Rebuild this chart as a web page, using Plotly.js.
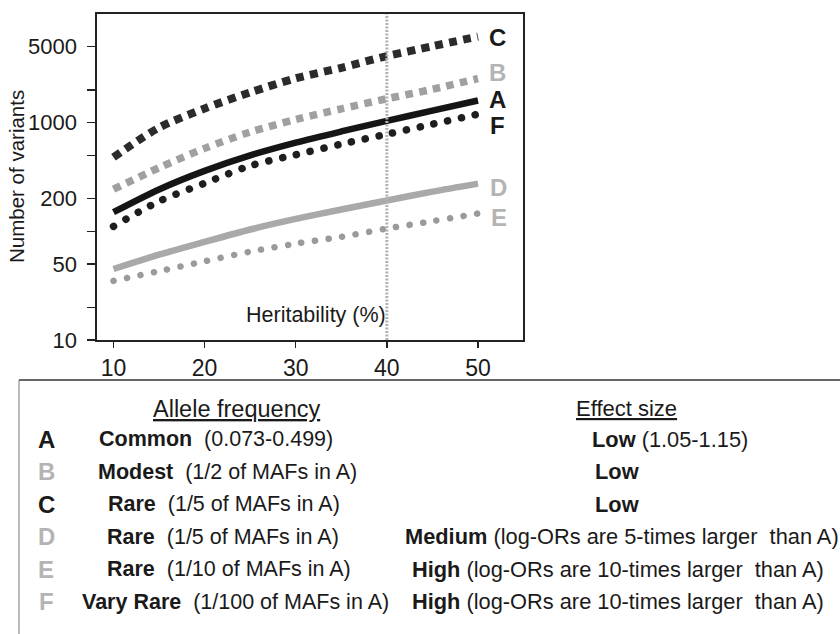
<!DOCTYPE html>
<html>
<head>
<meta charset="utf-8">
<script src="https://cdn.plot.ly/plotly-3.0.1.min.js"></script>
<style>
  html, body { margin: 0; padding: 0; background: #ffffff; }
  #chart { width: 840px; height: 634px; }
</style>
</head>
<body>
<div id="chart"></div>
<script>
// ---------------- data ----------------
const heritability = [10, 15, 20, 25, 30, 35, 40, 45, 50];
const seriesA = [150, 243, 360, 500, 655, 830, 1040, 1290, 1600];
const seriesB = [244, 385, 580, 820, 1070, 1340, 1660, 2030, 2550];
const seriesC = [480, 900, 1350, 1900, 2560, 3200, 4100, 5050, 6200];
const seriesD = [45, 61, 80, 104, 130, 159, 192, 232, 275];
const seriesE = [35, 43, 53, 65, 77, 89, 106, 124, 146];
const seriesF = [111, 189, 277, 401, 507, 634, 783, 969, 1197];

const yTickVals = [10, 20, 50, 100, 200, 500, 1000, 2000, 5000];
const yTickText = ['10', '', '50', '', '200', '', '1000', '', '5000'];
const xTickVals = [10, 20, 30, 40, 50];
const markerLineX = 40;

const yAxisTitle = 'Number of variants';
const xAxisTitle = 'Heritability (%)';

const legendLetters = ['A', 'B', 'C', 'D', 'E', 'F'];
const alleleHeader = 'Allele frequency';
const effectHeader = 'Effect size';
const alleleFreq = [
  '<b>Common</b>\u00a0\u00a0(0.073-0.499)',
  '<b>Modest</b>\u00a0\u00a0(1/2 of MAFs in A)',
  '<b>Rare</b>\u00a0\u00a0(1/5 of MAFs in A)',
  '<b>Rare</b>\u00a0\u00a0(1/5 of MAFs in A)',
  '<b>Rare</b>\u00a0\u00a0(1/10 of MAFs in A)',
  '<b>Vary Rare</b>\u00a0\u00a0(1/100 of MAFs in A)'
];
const effectSize = [
  '<b>Low</b> (1.05-1.15)',
  '<b>Low</b>',
  '<b>Low</b>',
  '<b>Medium</b> (log-ORs are 5-times larger\u00a0\u00a0than A)',
  '<b>High</b> (log-ORs are 10-times larger\u00a0\u00a0than A)',
  '<b>High</b> (log-ORs are 10-times larger\u00a0\u00a0than A)'
];

// ---------------- layout helpers (pixel -> paper) ----------------
const W = 840, H = 634;
const L = 97, R = 523, T = 14, B = 340;
const px = x => (x - L) / (R - L);
const py = y => (B - y) / (B - T);

const FONT = 'Liberation Sans, Arial, Helvetica, sans-serif';
const DARK = '#1a1a1a';
const LIGHT = '#b4b4b4';

// ---------------- traces ----------------
function tr(name, y, color, width, dash, round) {
  return {
    type: 'scatter', mode: 'lines', name: name,
    x: heritability, y: y,
    line: { color: color, width: width, dash: dash, shape: 'spline', smoothing: 0.8 },
    meta: round ? 'round' : 'plain',
    hoverinfo: 'skip'
  };
}
const traces = [
  tr('D', seriesD, '#a9a9a9', 6.5, 'solid', false),
  tr('E', seriesE, '#9a9a9a', 6.5, '0.1px,13.6px', true),
  tr('A', seriesA, '#151515', 6.5, 'solid', false),
  tr('F', seriesF, '#1e1e1e', 7.5, '0.1px,14px', true),
  tr('B', seriesB, '#a0a0a0', 7.5, '7.5px,6.5px', false),
  tr('C', seriesC, '#2b2b2b', 8, '8px,6.3px', false)
];

// ---------------- annotations ----------------
const annotations = [];
const curveLabels = [
  { t: 'C', x: 497.5, y: 37.5, c: DARK },
  { t: 'B', x: 497.5, y: 73, c: LIGHT },
  { t: 'A', x: 497.5, y: 99, c: DARK },
  { t: 'F', x: 497.5, y: 125, c: DARK },
  { t: 'D', x: 498.5, y: 187, c: LIGHT },
  { t: 'E', x: 498.5, y: 217, c: LIGHT }
];
curveLabels.forEach(l => annotations.push({
  xref: 'paper', yref: 'paper', x: px(l.x), y: py(l.y),
  xanchor: 'center', yanchor: 'middle', showarrow: false,
  text: l.t, font: { family: FONT, size: 24, color: l.c, weight: 'bold' }
}));
annotations.push({
  xref: 'paper', yref: 'paper', x: px(16), y: py(177),
  xanchor: 'center', yanchor: 'middle', showarrow: false, textangle: -90,
  text: yAxisTitle, font: { family: FONT, size: 20.5, color: DARK }
});
annotations.push({
  xref: 'paper', yref: 'paper', x: px(316), y: py(315),
  xanchor: 'center', yanchor: 'middle', showarrow: false,
  text: xAxisTitle, font: { family: FONT, size: 21.5, color: DARK }
});
annotations.push({
  xref: 'paper', yref: 'paper', x: px(236), y: py(409),
  xanchor: 'center', yanchor: 'middle', showarrow: false,
  text: '<u>' + alleleHeader + '</u>', font: { family: FONT, size: 23.5, color: DARK }
});
annotations.push({
  xref: 'paper', yref: 'paper', x: px(626), y: py(409),
  xanchor: 'center', yanchor: 'middle', showarrow: false,
  text: '<u>' + effectHeader + '</u>', font: { family: FONT, size: 22, color: DARK }
});
const rowY = [439, 471.5, 504, 536.5, 569, 601.5];
const leftX = [97, 96, 106, 105, 105, 80];
const rightX = [590, 593, 593, 403, 410, 410];
const letterColor = [DARK, LIGHT, DARK, LIGHT, LIGHT, LIGHT];
legendLetters.forEach((t, i) => {
  annotations.push({
    xref: 'paper', yref: 'paper', x: px(46), y: py(rowY[i]),
    xanchor: 'center', yanchor: 'middle', showarrow: false,
    text: t, font: { family: FONT, size: 24, color: letterColor[i], weight: 'bold' }
  });
  annotations.push({
    xref: 'paper', yref: 'paper', x: px(leftX[i]), y: py(rowY[i]),
    xanchor: 'left', yanchor: 'middle', showarrow: false,
    text: alleleFreq[i], font: { family: FONT, size: 21.5, color: DARK }
  });
  annotations.push({
    xref: 'paper', yref: 'paper', x: px(rightX[i]), y: py(rowY[i]),
    xanchor: 'left', yanchor: 'middle', showarrow: false,
    text: effectSize[i], font: { family: FONT, size: 21.8, color: DARK }
  });
});

// ---------------- shapes ----------------
const shapes = [
  { type: 'line', xref: 'x', yref: 'paper', x0: markerLineX, x1: markerLineX, y0: 0, y1: 1,
    line: { color: '#b2b2b2', width: 3, dash: '2px,1.5px' }, layer: 'above' },
  { type: 'line', xref: 'paper', yref: 'paper', x0: px(19), x1: px(840), y0: py(380), y1: py(380),
    line: { color: '#333333', width: 1.6 } },
  { type: 'line', xref: 'paper', yref: 'paper', x0: px(19), x1: px(19), y0: py(380), y1: py(640),
    line: { color: '#777777', width: 1 } }
];

// ---------------- layout ----------------
const layout = {
  width: W, height: H,
  margin: { l: L, r: W - R, t: T, b: H - B, pad: 0 },
  paper_bgcolor: '#ffffff', plot_bgcolor: '#ffffff',
  showlegend: false,
  font: { family: FONT, color: DARK },
  xaxis: {
    range: [8.19, 54.94], tickvals: xTickVals, ticktext: xTickVals.map(String),
    ticks: 'outside', ticklen: 6, tickwidth: 1.5, tickcolor: '#222',
    showline: true, linecolor: '#222', linewidth: 1.6, mirror: true,
    showgrid: false, zeroline: false,
    tickfont: { family: FONT, size: 23, color: DARK }, ticklabelstandoff: 1
  },
  yaxis: {
    type: 'log', range: [1, 4], tickvals: yTickVals, ticktext: yTickText,
    ticks: 'outside', ticklen: 8, tickwidth: 1.5, tickcolor: '#222',
    showline: true, linecolor: '#222', linewidth: 1.6, mirror: true,
    showgrid: false, zeroline: false,
    tickfont: { family: FONT, size: 22, color: DARK }, ticklabelstandoff: 6
  },
  annotations: annotations,
  shapes: shapes
};

Plotly.newPlot('chart', traces, layout, { staticPlot: true, displayModeBar: false }).then(gd => {
  const groups = gd.querySelectorAll('.scatterlayer .trace');
  traces.forEach((t, i) => {
    if (t.meta === 'round' && groups[i]) {
      const p = groups[i].querySelector('path.js-line');
      if (p) { p.style.strokeLinecap = 'round'; p.style.strokeDasharray = t.line.dash; }
    }
  });
});
</script>
</body>
</html>
